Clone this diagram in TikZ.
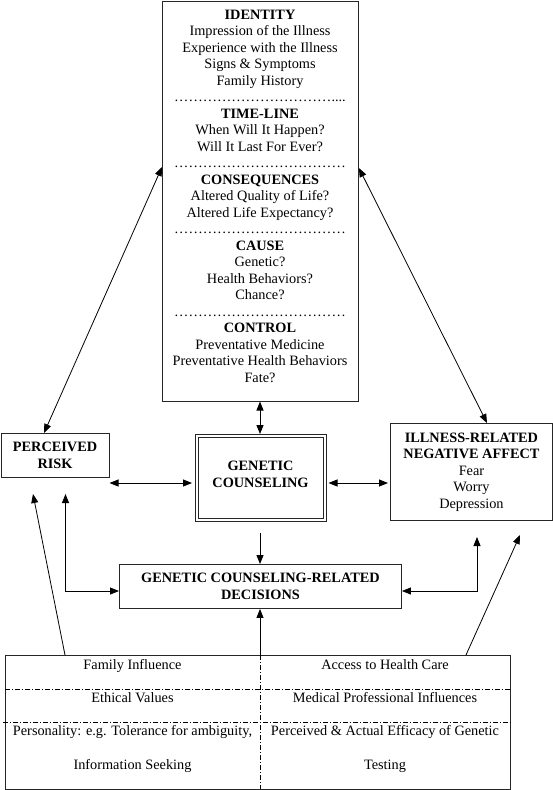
\documentclass[tikz,border=0pt]{standalone}
\usepackage{fontspec}
\setmainfont{Liberation Serif}
\usetikzlibrary{arrows.meta}
\newcommand\mydotsA{……………………………\char46\char46\char46\char46}
\newcommand\mydotsB{………………………………}
\begin{document}
\begin{tikzpicture}[x=1pt,y=-1pt,
  every node/.style={font=\fontsize{14.3}{16.5}\selectfont, inner sep=0pt},
  box/.style={draw=black!85, line width=0.9pt},
  conn/.style={line width=0.8pt, {Triangle[length=9pt,width=7pt]}-{Triangle[length=9pt,width=7pt]}},
  oneway/.style={line width=0.8pt, -{Triangle[length=9pt,width=7pt]}},
  sep/.style={line width=0.8pt, dash pattern=on 5pt off 2pt on 1pt off 2pt}]
\useasboundingbox (0,0) rectangle (553,790);

% ---- top box ----
\node[box, minimum width=196, minimum height=400, anchor=north west] (top) at (162,0.6) {};
\foreach \t [count=\i from 0] in {%
  {\textbf{IDENTITY}},{Impression of the Illness},{Experience with the Illness},{Signs \& Symptoms},{Family History},
  {\mydotsA},
  {\textbf{TIME-LINE}},{When Will It Happen?},{Will It Last For Ever?},
  {\mydotsB},
  {\textbf{CONSEQUENCES}},{Altered Quality of Life?},{Altered Life Expectancy?},
  {\mydotsB},
  {\textbf{CAUSE}},{Genetic?},{Health Behaviors?},{Chance?},
  {\mydotsB},
  {\textbf{CONTROL}},{Preventative Medicine},{Preventative Health Behaviors},{Fate?}}
  \node[anchor=base] (tl\i) at (260,{19+16.5*\i}) {\t};

% ---- boxes ----
\node[box, minimum width=108, minimum height=44, anchor=north west, align=center] (pr) at (0.6,433)
  {\textbf{PERCEIVED}\\\textbf{RISK}};
\node[draw=black!85, line width=0.8pt, minimum width=131, minimum height=87, anchor=north west] (gc) at (195,434) {};
\draw[black!85, line width=0.8pt] ([shift={(3,3)}]gc.north west) rectangle ([shift={(-3,-3)}]gc.south east);
\node[align=center] (gct) at (260.5,474.5) {\textbf{GENETIC}\\\textbf{COUNSELING}};
\node[box, minimum width=162, minimum height=97, anchor=north west, align=center] (ill) at (390,423)
  {\textbf{ILLNESS-RELATED}\\\textbf{NEGATIVE AFFECT}\\Fear\\Worry\\Depression};
\node[box, minimum width=282, minimum height=44, anchor=north west, align=center] (dec) at (119,564)
  {\textbf{GENETIC COUNSELING-RELATED}\\\textbf{DECISIONS}};

% ---- bottom table ----
\node[box, minimum width=505, minimum height=134, anchor=north west] (tab) at (5,655) {};
\draw[sep] (tab.west |- 0,689) -- (tab.east |- 0,689);
\draw[sep] (3,722) -- (tab.east |- 0,722);
\draw[sep] (260,655) -- (260,789);
\node[anchor=base] (c1) at (132.5,669) {Family Influence};
\node[anchor=base] (c2) at (132.5,702) {Ethical Values};
\node[anchor=base] (c3) at (132.5,735) {Personality: e.g. Tolerance for ambiguity,};
\node[anchor=base] (c4) at (132.5,769) {Information Seeking};
\node[anchor=base] (d1) at (385,669) {Access to Health Care};
\node[anchor=base] (d2) at (385,702) {Medical Professional Influences};
\node[anchor=base] (d3) at (385,735) {Perceived \& Actual Efficacy of Genetic};
\node[anchor=base] (d4) at (385,769) {Testing};

% ---- free ends ----
\coordinate (prA) at (109.5,483);
\coordinate (gcA) at (192,483);
\coordinate (gcB) at (328.5,483);
\coordinate (illA) at (388,483);
\coordinate (gcS) at (260,533);
\coordinate (prB) at (65.5,494);
\coordinate (prC) at (33,494);
\coordinate (illB) at (477,537);
\coordinate (illC) at (520,535);

% ---- connectors ----
\draw[conn] (top.west |- 0,167) -- (pr.north -| 44,0);
\draw[conn] (top.east |- 0,168) -- (ill.north -| 487,0);
\draw[conn] (top.south -| 260,0) -- (gc.north -| 260,0);
\draw[conn] (prA) -- (gcA);
\draw[conn] (gcB) -- (illA);
\draw[oneway] (gcS) -- (dec.north -| 260,0);
\draw[oneway] (tab.north -| 260,0) -- (dec.south -| 260,0);
\draw[conn] (dec.west |- 0,591) -| (prB);
\draw[conn] (dec.east |- 0,591) -| (illB);
\draw[oneway] (tab.north -| 65,0) -- (prC);
\draw[oneway] (tab.north -| 466,0) -- (illC);
\end{tikzpicture}
\end{document}
